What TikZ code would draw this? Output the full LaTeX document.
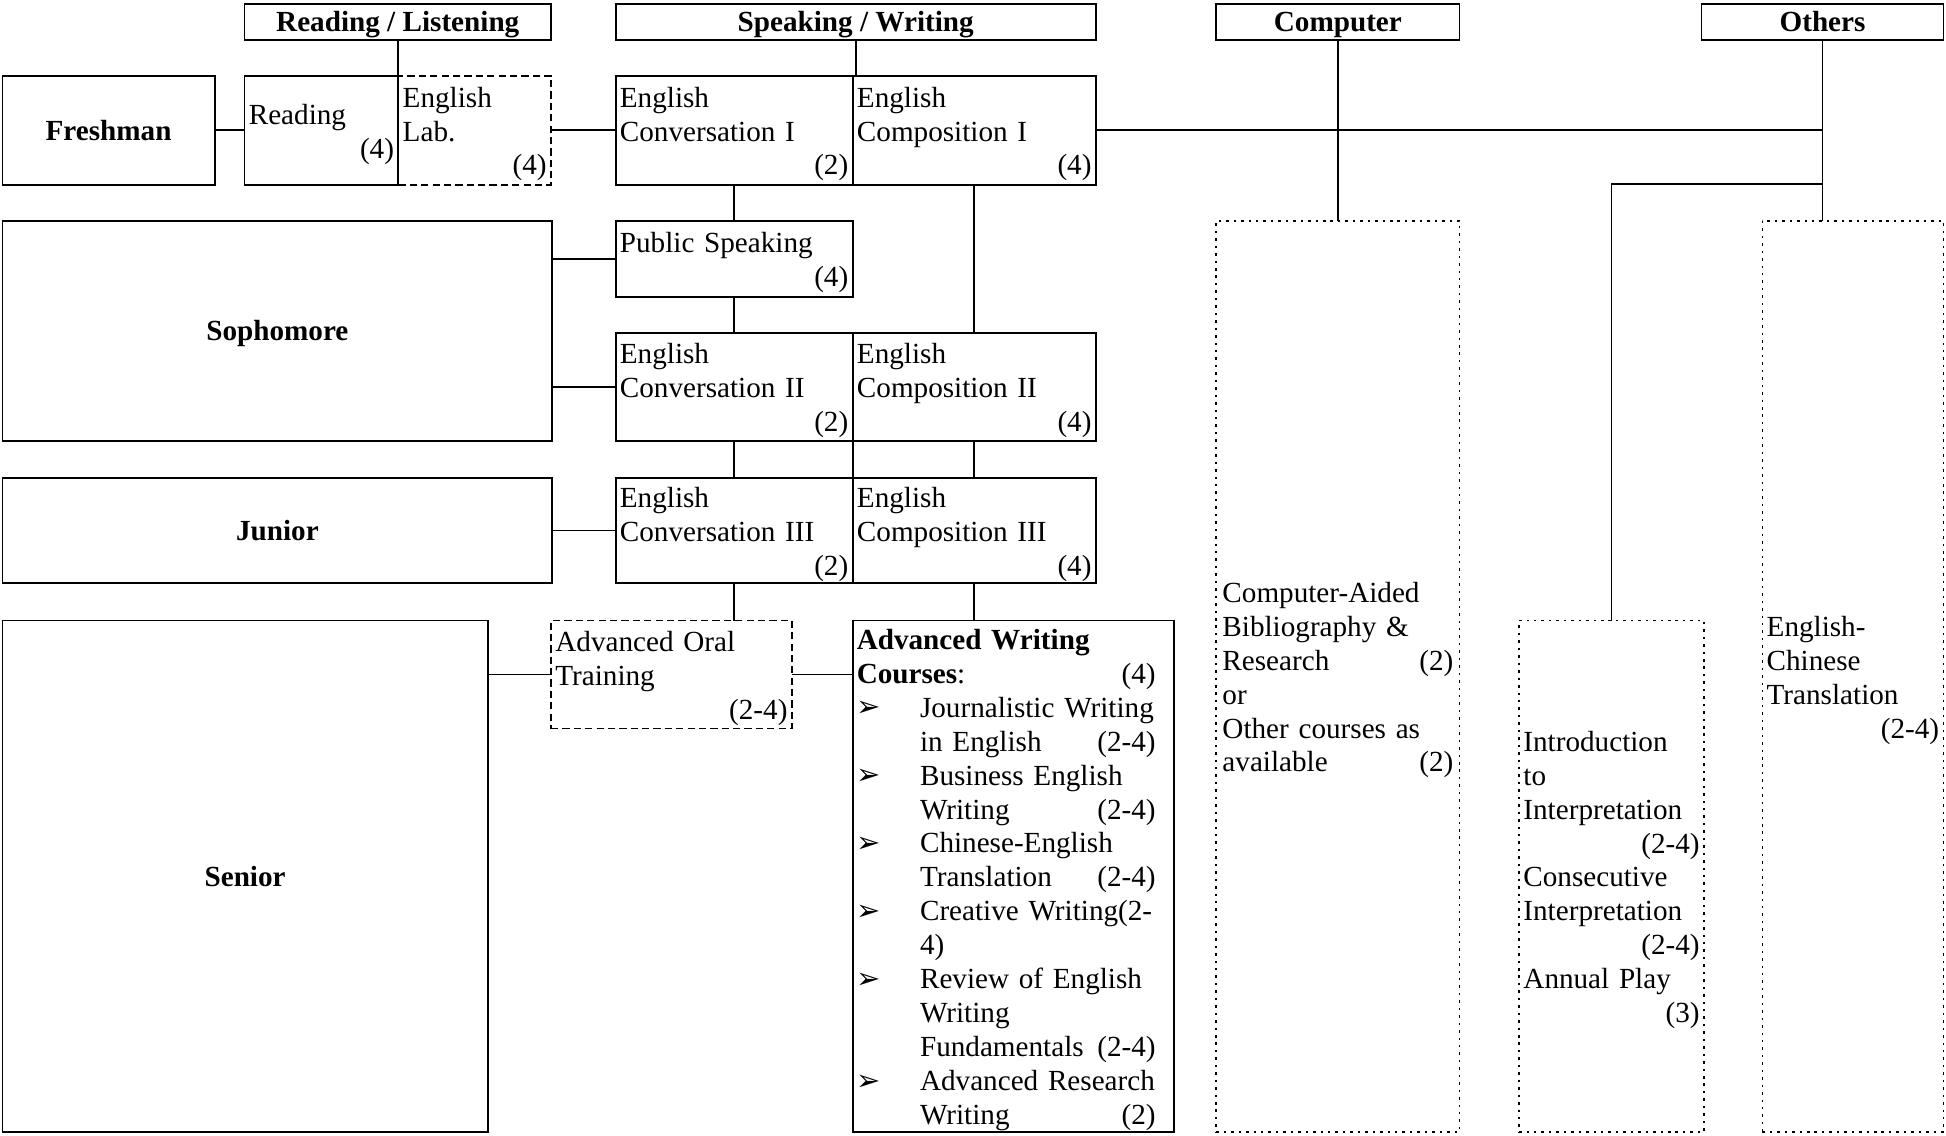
\documentclass[tikz,border=0pt]{standalone}
\usepackage{fontspec}
\setmainfont{Liberation Serif}
\newfontfamily\symfont{DejaVu Sans}
\hyphenpenalty=10000
\exhyphenpenalty=10000
\newcommand\rt[1]{\hspace*{0pt plus 1filll}#1}
\newcommand\bl{\makebox[30.6pt][l]{\raisebox{0.2pt}{\symfont\fontsize{14}{14}\selectfont ➢}}}
\newcommand\ind{\hspace*{30.6pt}}
% box: name, x1, y1, x2, y2, options
\newcommand\cb[6]{\node[#6, anchor=north west, minimum width={(#4-#2)*0.6pt}, minimum height={(#5-#3)*0.6pt}] (#1) at (#2,#3)}
% text box: name, x1, y1, x2, y2, box options, text width (pt), text
\newcommand\tb[8]{%
  \node[#6, anchor=north west, minimum width={(#4-#2)*0.6pt}, minimum height={(#5-#3)*0.6pt}] (#1) at (#2,#3) {};
  \node[txt, inner sep=0pt, text width=#7pt] (#1-t) at ([yshift=-1.8pt]#1.center) {#8};}
\tikzset{
  box/.style={draw, line width=0.9pt, inner sep=0pt, outer sep=0pt},
  dbox/.style={box, dash pattern=on 3.5pt off 2pt},
  obox/.style={box, line width=0.8pt, dash pattern=on 1.2pt off 2.4pt},
  txt/.style={font=\fontsize{14.1}{16.4}\selectfont, align=left},
  hd/.style={box, text depth=0pt, font=\fontsize{14.1}{16.4}\selectfont\bfseries},
  conn/.style={line width=0.9pt}
}
\begin{document}
\begin{tikzpicture}[x=0.6pt, y=-0.6pt]
\fill[white] (0,0) rectangle (1568,915);
\useasboundingbox (0,0) rectangle (1568,915);

% headers
\cb{hRL}{197}{3}{444}{32}{hd} {Reading / Listening};
\cb{hSW}{496}{3}{883}{32}{hd} {Speaking / Writing};
\cb{hC}{980}{3}{1176}{32}{hd} {Computer};
\cb{hO}{1371}{3}{1566}{32}{hd} {Others};

% year boxes
\cb{fr}{2}{61}{173}{149}{hd} {Freshman};
\cb{so}{2}{178}{445}{355}{hd} {Sophomore};
\cb{ju}{2}{385}{445}{470}{hd} {Junior};
\cb{se}{2}{500}{393}{912}{hd} {Senior};

% freshman row
\tb{rd}{197}{61}{321}{149}{box}{70.2}{Reading\\\rt{(4)}}
\tb{lab}{321}{61}{444}{149}{dbox}{69.6}{English\\Lab.\\\rt{(4)}}
\tb{c1}{496}{61}{687}{149}{box}{110.4}{English\\Conversation I\\\rt{(2)}}
\tb{m1}{687}{61}{883}{149}{box}{113.4}{English\\Composition I\\\rt{(4)}}

% sophomore
\tb{ps}{496}{178}{687}{239}{box}{110.4}{Public Speaking\\\rt{(4)}}
\tb{c2}{496}{268}{687}{355}{box}{110.4}{English\\Conversation II\\\rt{(2)}}
\tb{m2}{687}{268}{883}{355}{box}{113.4}{English\\Composition II\\\rt{(4)}}

% junior
\tb{c3}{496}{385}{687}{470}{box}{110.4}{English\\Conversation III\\\rt{(2)}}
\tb{m3}{687}{385}{883}{470}{box}{113.4}{English\\Composition III\\\rt{(4)}}

% senior
\tb{oral}{444}{500}{638}{587}{dbox}{112.2}{Advanced Oral\\Training\\\rt{(2-4)}}
\cb{aw}{687}{500}{946}{912}{box} {};
\node[txt, inner sep=0pt, text width=144.5pt, anchor=west] (awt) at ([xshift=1.8pt,yshift=-1.8pt]aw.west) {%
\textbf{Advanced Writing}\\
\textbf{Courses}:\rt{(4)}\\
\bl Journalistic Writing\\
\ind in English\rt{(2-4)}\\
\bl Business English\\
\ind Writing\rt{(2-4)}\\
\bl Chinese-English\\
\ind Translation\rt{(2-4)}\\
\bl Creative Writing(2-\\
\ind 4)\\
\bl Review of English\\
\ind Writing\\
\ind Fundamentals\rt{(2-4)}\\
\bl Advanced Research\\
\ind Writing\rt{(2)}};

% right columns
\tb{comp}{980}{178}{1176}{912}{obox}{111.6}{Computer-Aided\\Bibliography \&\\Research\rt{(2)}\\or\\Other courses as\\available\rt{(2)}}
\tb{intro}{1224}{500}{1373}{912}{obox}{85.2}{Introduction\\to\\Interpretation\\\rt{(2-4)}\\Consecutive\\Interpretation\\\rt{(2-4)}\\Annual Play\\\rt{(3)}}
\tb{ec}{1420}{178}{1566}{912}{obox}{83.4}{English-\\Chinese\\Translation\\\rt{(2-4)}}

% connectors
\draw[conn] (hRL.south) -- (hRL.south |- rd.north);
\draw[conn] (hSW.south) -- (hSW.south |- c1.north);
\draw[conn] (hC.south) -- (comp.north);
\draw[conn] (hO.south) -- (hO.south |- ec.north);
\draw[conn] (m1.east) -- (m1.east -| hO.south);
\coordinate (oj) at (hO.south |- 0,148);
\draw[conn] (oj) -- (oj -| intro.north) -- (intro.north);

\draw[conn] (fr.east) -- (rd.west);
\draw[conn] (lab.east) -- (c1.west);
\draw[conn] (c1.south) -- (ps.north);
\draw[conn] (ps.south) -- (c2.north);
\draw[conn] (m1.south) -- (m2.north);
\draw[conn] (ps.west -| so.east) -- (ps.west);
\draw[conn] (c2.west -| so.east) -- (c2.west);

\draw[conn] (c2.south) -- (c3.north);
\draw[conn] (m2.south) -- (m3.north);
\draw[conn] (c2.south east) -- (c3.north east);
\draw[conn] (ju.east) -- (c3.west);

\draw[conn] (c3.south) -- (c3.south |- oral.north);
\draw[conn] (m3.south) -- (m3.south |- aw.north);
\draw[conn] (oral.west -| se.east) -- (oral.west);
\draw[conn] (oral.east) -- (oral.east -| aw.west);
\end{tikzpicture}
\end{document}
